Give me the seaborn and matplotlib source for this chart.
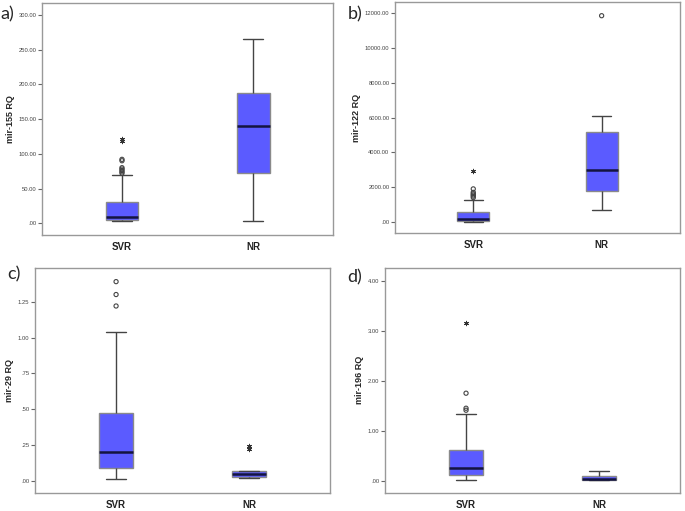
import numpy as np
import pandas as pd
import matplotlib
matplotlib.use("Agg")
import matplotlib.pyplot as plt
import seaborn as sns
from matplotlib.ticker import FuncFormatter, MultipleLocator

sns.set_style("white")
plt.rcParams["font.family"] = ["Liberation Sans", "DejaVu Sans"]

groups = ["SVR", "NR"]

# five-number summaries: [whisker low, Q1, median, Q3, whisker high]
a_svr = [3, 4.5, 9, 30, 69]
a_nr = [3.5, 73, 140, 187, 265]
a_svr_out = [72, 74, 76, 78, 80, 90, 92]
a_svr_ext = [118, 121]

b_svr = [0, 75, 170, 560, 1280]
b_nr = [710, 1760, 2960, 5180, 6080]
b_svr_out = [1400, 1480, 1550, 1620, 1700, 1900]
b_svr_ext = [2920]
b_nr_out = [11850]

c_svr = [0.01, 0.087, 0.2, 0.47, 1.04]
c_nr = [0.018, 0.027, 0.048, 0.066, 0.068]
c_svr_out = [1.22, 1.30, 1.39]
c_nr_ext = [0.22, 0.24]

d_svr = [0.01, 0.115, 0.26, 0.61, 1.34]
d_nr = [0.01, 0.015, 0.03, 0.10, 0.20]
d_svr_out = [1.41, 1.45, 1.75]
d_svr_ext = [3.16]

panels = [
    dict(tag="a)", ylabel="mir-155 RQ", svr=a_svr, nr=a_nr,
         out={"SVR": a_svr_out}, ext={"SVR": a_svr_ext},
         ylim=(-17, 317), step=50, pos=[0.0613, 0.540, 0.425, 0.454], tagxy=(0.0, 0.972)),
    dict(tag="b)", ylabel="mir-122 RQ", svr=b_svr, nr=b_nr,
         out={"SVR": b_svr_out, "NR": b_nr_out}, ext={"SVR": b_svr_ext},
         ylim=(-635, 12635), step=2000, pos=[0.5766, 0.544, 0.416, 0.452], tagxy=(0.507, 0.972)),
    dict(tag="c)", ylabel="mir-29 RQ", svr=c_svr, nr=c_nr,
         out={"SVR": c_svr_out}, ext={"NR": c_nr_ext},
         ylim=(-0.082, 1.485), step=0.25, pos=[0.0511, 0.036, 0.4307, 0.4395], tagxy=(0.011, 0.464)),
    dict(tag="d)", ylabel="mir-196 RQ", svr=d_svr, nr=d_nr,
         out={"SVR": d_svr_out}, ext={"SVR": d_svr_ext},
         ylim=(-0.235, 4.25), step=1.0, pos=[0.562, 0.036, 0.4307, 0.4395], tagxy=(0.507, 0.458)),
]


def spss_fmt(v, _):
    s = f"{v:.2f}"
    if s.startswith("0."):
        s = s[1:]
    if s == "-0.00":
        s = ".00"
    return s


fig = plt.figure(figsize=(6.85, 5.11), dpi=100)
box_color = "#5B5BFF"
asterisk = (6, 2, 0)

box_kw = dict(order=groups, whis=(0, 100), showfliers=False, width=0.25,
              color=box_color, saturation=1,
              boxprops=dict(facecolor=box_color, edgecolor="#8a8a8a", linewidth=1.0),
              whiskerprops=dict(color="#444444", linewidth=1.0),
              capprops=dict(color="#444444", linewidth=1.0),
              medianprops=dict(color="#141440", linewidth=1.8))

for p in panels:
    ax = fig.add_axes(p["pos"])
    df = pd.DataFrame({
        "group": ["SVR"] * len(p["svr"]) + ["NR"] * len(p["nr"]),
        "value": list(p["svr"]) + list(p["nr"]),
    })
    try:
        sns.boxplot(data=df, x="group", y="value", ax=ax, capwidths=0.15, **box_kw)
    except Exception:
        ax.cla()
        sns.boxplot(data=df, x="group", y="value", ax=ax, **box_kw)
    # outliers (circles)
    rows = [(g, v) for g, vals in p["out"].items() for v in vals]
    if rows:
        odf = pd.DataFrame(rows, columns=["group", "value"])
        n0 = len(ax.collections)
        sns.stripplot(data=odf, x="group", y="value", order=groups, ax=ax,
                      jitter=False, marker="o", size=3.0, color="white",
                      edgecolor="#444444", linewidth=0.8, zorder=5)
        for coll in ax.collections[n0:]:
            coll.set_facecolor("none")
    # extremes (asterisks)
    rows = [(g, v) for g, vals in p["ext"].items() for v in vals]
    if rows:
        edf = pd.DataFrame(rows, columns=["group", "value"])
        sns.stripplot(data=edf, x="group", y="value", order=groups, ax=ax,
                      jitter=False, marker=asterisk, size=3.2, color="#333333",
                      edgecolor="#333333", linewidth=0.7, zorder=5)

    ax.set_xlim(-0.61, 1.61)
    ax.set_ylim(*p["ylim"])
    ax.yaxis.set_major_locator(MultipleLocator(p["step"]))
    ax.yaxis.set_major_formatter(FuncFormatter(spss_fmt))
    ax.set_xlabel("")
    ax.set_ylabel(p["ylabel"], fontsize=6.5, fontweight="bold", labelpad=2.5)
    ax.tick_params(axis="y", which="major", left=True, length=3, width=0.8,
                   color="#666666", labelsize=4.2, labelcolor="#444444", pad=1)
    ax.tick_params(axis="x", bottom=False, labelsize=7, pad=1.5)
    for lab in ax.get_xticklabels():
        lab.set_fontweight("bold")
        lab.set_color("#222222")
    for sp in ax.spines.values():
        sp.set_visible(True)
        sp.set_color("#999999")
        sp.set_linewidth(1.0)
    fig.text(p["tagxy"][0], p["tagxy"][1], p["tag"], fontsize=13,
             family=["Lato", "DejaVu Sans"], va="center", ha="left")

fig.savefig("out.png", dpi=100)
